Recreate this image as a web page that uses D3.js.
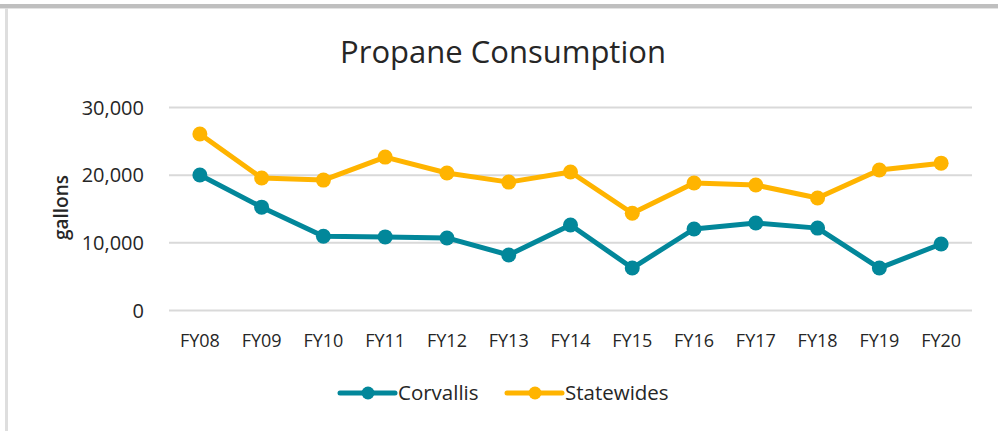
<!DOCTYPE html>
<html>
<head>
<meta charset="utf-8">
<script src="https://cdn.jsdelivr.net/npm/d3@7"></script>
<style>
  body { margin: 0; background: #fff; }
  #chart { width: 998px; height: 431px; }
  text { font-family: "Open Sans", "Liberation Sans", sans-serif; fill: #262626; }
</style>
</head>
<body>
<div id="chart"></div>
<script>
var width = 998;
var height = 431;
var margin = {top: 107, left: 169, right: 26, bottom: 121};

// data
var years = ["FY08", "FY09", "FY10", "FY11", "FY12", "FY13", "FY14", "FY15", "FY16", "FY17", "FY18", "FY19", "FY20"];
var corvallis = [19950, 15200, 10900, 10800, 10650, 8130, 12560, 6200, 11970, 12860, 12100, 6200, 9750];
var statewides = [26000, 19500, 19200, 22600, 20250, 18900, 20400, 14300, 18770, 18470, 16550, 20700, 21700];
var yTicks = [0, 10000, 20000, 30000];

var series = [
    {name: "Corvallis", values: corvallis, color: "#02879A"},
    {name: "Statewides", values: statewides, color: "#FFB400"}
];

var svg = d3.select("#chart")
    .append("svg")
    .attr("width", width)
    .attr("height", height);

// frame: grey strip on top and left edge
svg.append("rect").attr("x", 0).attr("y", 4).attr("width", width).attr("height", 4).attr("fill", "#bfbfbf");
svg.append("rect").attr("x", 0).attr("y", 8).attr("width", width).attr("height", 1).attr("fill", "#e3e3e3");
svg.append("rect").attr("x", 5).attr("y", 8).attr("width", 3).attr("height", height).attr("fill", "#dedede");

var xScale = d3.scaleBand()
    .domain(years)
    .range([margin.left, width - margin.right]);

var yScale = d3.scaleLinear()
    .domain([0, 30000])
    .range([height - margin.bottom, margin.top]);

// gridlines
svg.append("g")
    .attr("transform", `translate(${margin.left},0)`)
    .call(d3.axisLeft(yScale).tickValues(yTicks).tickSize(-(width - margin.left - margin.right)).tickFormat(""))
    .call(g => g.select(".domain").remove())
    .selectAll("line")
    .attr("stroke", "#d9d9d9")
    .attr("stroke-width", 2);

// y labels
var yAxis = svg.append("g")
    .attr("transform", `translate(${margin.left - 22},0)`)
    .call(d3.axisLeft(yScale).tickValues(yTicks).tickSize(0).tickFormat(d3.format(",")));
yAxis.select(".domain").remove();
yAxis.selectAll("text")
    .style("font-size", "20px")
    .attr("dy", "0.35em")
    .attr("fill", "#262626");

// x labels
var xAxis = svg.append("g")
    .attr("transform", `translate(0,${height - margin.bottom})`)
    .call(d3.axisBottom(xScale).tickSize(0));
xAxis.select(".domain").remove();
xAxis.selectAll("text")
    .style("font-size", "18px")
    .attr("y", 24)
    .attr("fill", "#262626");

// title and axis label
svg.append("text")
    .attr("x", 503)
    .attr("y", 63)
    .attr("text-anchor", "middle")
    .style("font-size", "31px")
    .text("Propane Consumption");

svg.append("text")
    .attr("transform", "rotate(-90)")
    .attr("x", -(margin.top + (height - margin.bottom)) / 2 + 1)
    .attr("y", 68)
    .attr("text-anchor", "middle")
    .style("font-size", "19px")
    .style("font-weight", "600")
    .text("gallons");

var line = d3.line()
    .x(function(d, i) { return xScale(years[i]) + xScale.bandwidth() / 2; })
    .y(function(d) { return yScale(d); });

series.forEach(function(s) {
    svg.append("path")
        .datum(s.values)
        .attr("d", line)
        .attr("fill", "none")
        .attr("stroke", s.color)
        .attr("stroke-width", 5)
        .attr("stroke-linejoin", "round");

    svg.selectAll(null)
        .data(s.values)
        .enter()
        .append("circle")
        .attr("cx", function(d, i) { return xScale(years[i]) + xScale.bandwidth() / 2; })
        .attr("cy", function(d) { return yScale(d); })
        .attr("r", 7.5)
        .attr("fill", s.color);
});

// legend
var legendX = [340, 507];
var legend = svg.selectAll(".legend")
    .data(series)
    .enter()
    .append("g")
    .attr("class", "legend")
    .attr("transform", function(d, i) { return `translate(${legendX[i]},393)`; });

legend.append("line")
    .attr("x1", 0).attr("x2", 55)
    .attr("stroke", function(d) { return d.color; })
    .attr("stroke-width", 5)
    .attr("stroke-linecap", "round");
legend.append("circle")
    .attr("cx", 28).attr("r", 6.5)
    .attr("fill", function(d) { return d.color; });
legend.append("text")
    .attr("x", 58)
    .attr("dy", "0.35em")
    .style("font-size", "20.5px")
    .text(function(d) { return d.name; });
</script>
</body>
</html>
